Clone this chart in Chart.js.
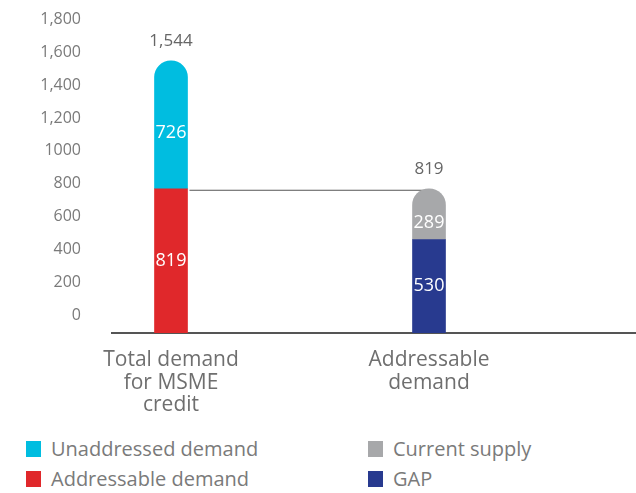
<!DOCTYPE html>
<html>
<head>
<meta charset="utf-8">
<script src="https://cdn.jsdelivr.net/npm/chart.js@4/dist/chart.umd.min.js"></script>
<style>
  body { margin: 0; background: #fff; font-family: "Open Sans", sans-serif; }
  #wrap { position: relative; width: 636px; height: 425px; }
  #legend {
    display: grid;
    grid-template-columns: 342px 240px;
    padding-left: 26px;
    margin-top: 12px;
    row-gap: 7px;
  }
  .item { display: flex; align-items: center; height: 23px; color: #7a7a7a; font-size: 20px; }
  .swatch { width: 15px; height: 16px; margin-right: 10px; }
</style>
</head>
<body>
<div id="wrap"><canvas id="chart"></canvas></div>
<div id="legend"></div>
<script>
"use strict";

// Categories (x axis, multi-line)
const categories = [["Total demand", "for MSME", "credit"], ["Addressable", "demand"]];
const categoryPos = [0, 1];

// Stacked series, bottom segment first
const addressableDemand = [819, null];
const unaddressedDemand = [726, null];
const gap = [null, 530];
const currentSupply = [null, 289];

// Stack totals printed above the bars
const totals = [1544, 819];

// Y axis tick labels
const yTickValues = [0, 200, 400, 600, 800, 1000, 1200, 1400, 1600, 1800];
const yTickLabels = ["0", "200", "400", "600", "800", "1000", "1,200", "1,400", "1,600", "1,800"];

const colors = {
    unaddressed: "#00bde0",
    addressable: "#e0282b",
    supply: "#a7a8aa",
    gap: "#283a8f",
};

const FONT = "'Open Sans', sans-serif";
const CAP = 17; // rounded top of each stack

const toPoints = (arr) => arr.map((v, i) => ({ x: categoryPos[i], y: v }));

const datasets = [
    { label: "Addressable demand", data: toPoints(addressableDemand), backgroundColor: colors.addressable, borderRadius: 0 },
    { label: "Unaddressed demand", data: toPoints(unaddressedDemand), backgroundColor: colors.unaddressed, borderRadius: CAP },
    { label: "GAP", data: toPoints(gap), backgroundColor: colors.gap, borderRadius: 0 },
    { label: "Current supply", data: toPoints(currentSupply), backgroundColor: colors.supply, borderRadius: CAP },
];

// Legend reads row by row, two columns
const legendOrder = ["Unaddressed demand", "Current supply", "Addressable demand", "GAP"];

/**
 * Draws the values inside each segment, the totals above each stack
 * and the connector between the two 819 levels
 */
const barLabels = {
    id: "barLabels",
    beforeDatasetsDraw(chart) {
        const ctx = chart.ctx;
        const from = chart.getDatasetMeta(0).data[0];
        const to = chart.getDatasetMeta(3).data[1];
        ctx.save();
        ctx.strokeStyle = "#555";
        ctx.lineWidth = 1;
        ctx.beginPath();
        ctx.moveTo(from.x + from.width / 2 + 2, from.y + 1.5);
        ctx.lineTo(to.x, from.y + 1.5);
        ctx.stroke();
        ctx.restore();
    },
    afterDatasetsDraw(chart) {
        const ctx = chart.ctx;
        ctx.save();
        ctx.textAlign = "center";
        ctx.textBaseline = "middle";
        const tops = [];
        ctx.font = "18px " + FONT;
        chart.data.datasets.forEach((ds, di) => {
            chart.getDatasetMeta(di).data.forEach((bar, i) => {
                const v = ds.data[i].y;
                if (v === null) return;
                // keep the value clear of the rounded cap
                const top = ds.borderRadius ? bar.y + ds.borderRadius : bar.y;
                ctx.fillStyle = "#fff";
                ctx.fillText(v, bar.x, (top + bar.base) / 2);
                if (tops[i] === undefined || bar.y < tops[i].y) tops[i] = bar;
            });
        });
        ctx.font = "17px " + FONT;
        ctx.fillStyle = "#666";
        tops.forEach((bar, i) => {
            ctx.fillText(totals[i].toLocaleString("en-US"), bar.x, bar.y - 20);
        });
        ctx.restore();
    },
};

new Chart(document.getElementById("chart"), {
    type: "bar",
    data: { datasets },
    options: {
        responsive: true,
        maintainAspectRatio: false,
        animation: false,
        layout: { padding: { top: 16, right: 0, left: 0, bottom: 0 } },
        datasets: { bar: { barThickness: 33, borderSkipped: "start" } },
        plugins: { legend: { display: false }, tooltip: { enabled: false } },
        scales: {
            x: {
                type: "linear",
                stacked: true,
                offset: false,
                min: -0.2287,
                max: 1.8023,
                z: 1,
                grid: { display: false, drawTicks: false },
                border: { display: true, color: "#555", width: 2 },
                afterBuildTicks: (scale) => {
                    scale.ticks = categoryPos.map((v) => ({ value: v }));
                },
                afterFit: (scale) => {
                    scale.height = 92;
                },
                ticks: {
                    padding: 16,
                    color: "#6f6f6f",
                    font: { family: FONT, size: 21, lineHeight: 1.07 },
                    callback: (v, i) => categories[i],
                },
            },
            // scale used by the bars
            y: {
                stacked: true,
                display: false,
                min: 0,
                max: 1800,
            },
            // printed value axis
            yTicks: {
                position: "left",
                min: -109,
                max: 1821,
                grid: { display: false, drawTicks: false },
                border: { display: false },
                afterBuildTicks: (scale) => {
                    scale.ticks = yTickValues.map((v) => ({ value: v }));
                },
                afterFit: (scale) => {
                    scale.width = 112;
                    scale.paddingTop = 0;
                    scale.paddingBottom = 0;
                },
                ticks: {
                    padding: 31,
                    color: "#7a7a7a",
                    font: { family: FONT, size: 16 },
                    callback: (v, i) => yTickLabels[i],
                },
            },
        },
    },
    plugins: [barLabels],
});

// HTML legend in two columns
const legend = document.getElementById("legend");
legendOrder.forEach((name) => {
    const ds = datasets.find((d) => d.label === name);
    const item = document.createElement("div");
    item.className = "item";
    const sw = document.createElement("span");
    sw.className = "swatch";
    sw.style.background = ds.backgroundColor;
    const txt = document.createElement("span");
    txt.textContent = name;
    item.appendChild(sw);
    item.appendChild(txt);
    legend.appendChild(item);
});
</script>
</body>
</html>
